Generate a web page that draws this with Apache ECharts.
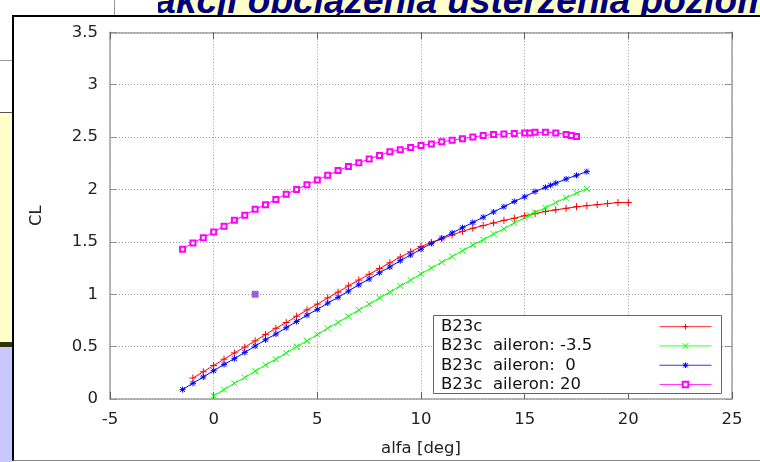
<!DOCTYPE html>
<html>
<head>
<meta charset="utf-8">
<script src="https://cdn.jsdelivr.net/npm/echarts@6/dist/echarts.min.js"></script>
<style>
  html, body { margin: 0; padding: 0; background: #fff; }
  #slide { position: relative; width: 760px; height: 462px; overflow: hidden; background: #fff; }
  .abs { position: absolute; }
  #band { left: 158px; top: 0; width: 602px; height: 16px; background: #ffffcc; overflow: hidden; }
  #title { position: absolute; left: -50px; top: -17px; white-space: nowrap;
           font: italic bold 37px/36px "Liberation Sans", Arial, sans-serif; color: #00007f; }
  #frame { left: 12px; top: 15px; width: 900px; height: 443px; background: #fff;
           border-left: 2px solid #000; border-top: 2px solid #000; border-bottom: 1px solid #888; }
  #chart { position: absolute; left: 0; top: 0; width: 760px; height: 462px; }
</style>
</head>
<body>
<div id="slide">
  <div class="abs" style="left:114px;top:0;width:1px;height:16px;background:#999"></div>
  <div class="abs" style="left:0;top:60px;width:12px;height:1px;background:#999"></div>
  <div class="abs" id="band"><div id="title">Reakcji obciążenia usterzenia poziomego</div></div>
  <div class="abs" style="left:0;top:112px;width:12px;height:1px;background:#555"></div>
  <div class="abs" style="left:0;top:113px;width:12px;height:229px;background:#ffffcc"></div>
  <div class="abs" style="left:0;top:342px;width:12px;height:5px;background:#333300"></div>
  <div class="abs" style="left:0;top:347px;width:12px;height:115px;background:#c8c8ff"></div>
  <div class="abs" id="frame"></div>
  <div id="chart"></div>
</div>
<script>
// Axis ranges (alfa in degrees, CL dimensionless)
const xMin = -5, xMax = 25, xStep = 5;
const yMin = 0, yMax = 3.5, yStep = 0.5;

// B23c (clean profile)
const alfaBase = [-1, -0.5, 0, 0.5, 1, 1.5, 2, 2.5, 3, 3.5, 4, 4.5, 5, 5.5, 6, 6.5, 7, 7.5, 8, 8.5,
  9, 9.5, 10, 10.5, 11, 11.5, 12, 12.5, 13, 13.5, 14, 14.5, 15, 15.5, 16, 16.5, 17, 17.5, 18, 18.5,
  19, 19.5, 20];
const clBase = [0.20, 0.26, 0.32, 0.38, 0.44, 0.495, 0.555, 0.615, 0.675, 0.73, 0.79, 0.85, 0.905, 0.965,
  1.02, 1.08, 1.135, 1.19, 1.245, 1.30, 1.355, 1.405, 1.455, 1.495, 1.53, 1.565, 1.60, 1.63, 1.655,
  1.68, 1.705, 1.725, 1.75, 1.77, 1.79, 1.805, 1.82, 1.835, 1.845, 1.855, 1.865, 1.875, 1.875];

// B23c aileron -3.5
const alfaAilM35 = [0, 0.5, 1, 1.5, 2, 2.5, 3, 3.5, 4, 4.5, 5, 5.5, 6, 6.5, 7, 7.5, 8, 8.5, 9, 9.5,
  10, 10.5, 11, 11.5, 12, 12.5, 13, 13.5, 14, 14.5, 15, 15.25, 15.5, 16, 16.5, 17, 17.5, 18];
const clAilM35 = [0.03, 0.09, 0.15, 0.205, 0.265, 0.325, 0.38, 0.44, 0.50, 0.555, 0.615, 0.675, 0.73,
  0.79, 0.85, 0.905, 0.965, 1.02, 1.08, 1.135, 1.195, 1.25, 1.305, 1.36, 1.415, 1.47, 1.52, 1.575,
  1.625, 1.68, 1.73, 1.755, 1.78, 1.825, 1.875, 1.92, 1.965, 2.005];

// B23c aileron 0
const alfaAil0 = [-1.5, -1, -0.5, 0, 0.5, 1, 1.5, 2, 2.5, 3, 3.5, 4, 4.5, 5, 5.5, 6, 6.5, 7, 7.5, 8,
  8.5, 9, 9.5, 10, 10.5, 11, 11.5, 12, 12.5, 13, 13.5, 14, 14.5, 15, 15.5, 16, 16.25, 16.5, 17, 17.5, 18];
const clAil0 = [0.09, 0.15, 0.21, 0.27, 0.33, 0.385, 0.445, 0.505, 0.565, 0.62, 0.68, 0.74, 0.80, 0.855,
  0.915, 0.97, 1.03, 1.09, 1.145, 1.205, 1.26, 1.32, 1.375, 1.43, 1.485, 1.535, 1.585, 1.635, 1.685,
  1.735, 1.785, 1.835, 1.885, 1.93, 1.98, 2.02, 2.04, 2.06, 2.10, 2.135, 2.17];

// B23c aileron 20
const alfaAil20 = [-1.5, -1, -0.5, 0, 0.5, 1, 1.5, 2, 2.5, 3, 3.5, 4, 4.5, 5, 5.5, 6, 6.5, 7, 7.5, 8,
  8.5, 9, 9.5, 10, 10.5, 11, 11.5, 12, 12.5, 13, 13.5, 14, 14.5, 15, 15.25, 15.5, 16, 16.5, 17, 17.25, 17.5];
const clAil20 = [1.43, 1.49, 1.54, 1.595, 1.65, 1.705, 1.755, 1.81, 1.855, 1.905, 1.955, 2.0, 2.045,
  2.09, 2.135, 2.18, 2.22, 2.255, 2.29, 2.325, 2.36, 2.38, 2.40, 2.42, 2.435, 2.455, 2.47, 2.485,
  2.50, 2.515, 2.525, 2.53, 2.535, 2.54, 2.54, 2.545, 2.545, 2.54, 2.525, 2.515, 2.505];

// Single isolated sample
const alfaExtra = [2];
const clExtra = [1.0];

const names = ['B23c', 'B23c  aileron: -3.5', 'B23c  aileron:  0', 'B23c  aileron: 20'];
const colors = ['#ff0000', '#00ff00', '#0000ff', '#ff00ff'];

const pairs = (xs, ys) => xs.map((x, i) => [x, ys[i]]);

// gnuplot-style point types
const plusSym = 'path://M0,5L10,5M5,0L5,10';
const crossSym = 'path://M0,0L10,10M10,0L0,10';
const starSym = 'path://M0,5L10,5M5,0L5,10M1,1L9,9M9,1L1,9';

function lineSeries(idx, data, symbol, size) {
  return {
    name: names[idx], type: 'line', data: data,
    symbol: symbol, symbolSize: size,
    lineStyle: { color: colors[idx], width: 1 },
    itemStyle: { color: colors[idx], borderColor: colors[idx], borderWidth: 1 },
    emphasis: { disabled: true },
    z: 2 + idx * 0.1
  };
}

const font = '"DejaVu Sans", Verdana, sans-serif';
const fs = 16.5;
const splitStyle = { show: true, lineStyle: { color: '#999', width: 1, type: [1, 2] } };
const borderLine = { show: true, onZero: false, lineStyle: { color: '#a0a0a0', width: 1.5 } };

// legend sample entries: line plus point in each series colour
const legendSamples = names.map((n, i) => ({
  name: n,
  lineStyle: { color: colors[i], width: 1, opacity: 0.8 },
  itemStyle: { color: colors[i], borderColor: colors[i], borderWidth: 1 }
}));

const chart = echarts.init(document.getElementById('chart'), null, { renderer: 'canvas' });
chart.setOption({
  backgroundColor: 'transparent',
  animation: false,
  textStyle: { fontFamily: font },
  grid: { left: 110, right: 28, top: 32.3, bottom: 61.4, containLabel: false },
  xAxis: [
    { type: 'value', min: xMin, max: xMax, interval: xStep, position: 'bottom',
      axisLine: borderLine, axisTick: { show: true, inside: true, length: 7, lineStyle: { color: '#606060' } },
      axisLabel: { margin: 12, fontSize: fs, color: '#222', fontFamily: font },
      splitLine: splitStyle,
      name: 'alfa [deg]', nameLocation: 'middle', nameGap: 41,
      nameTextStyle: { fontSize: fs, color: '#222', fontFamily: font } },
    { type: 'value', min: xMin, max: xMax, interval: xStep, position: 'top',
      axisLine: borderLine, axisTick: { show: true, inside: true, length: 7, lineStyle: { color: '#606060' } },
      axisLabel: { show: false }, splitLine: { show: false } }
  ],
  yAxis: [
    { type: 'value', min: yMin, max: yMax, interval: yStep, position: 'left',
      axisLine: borderLine, axisTick: { show: true, inside: true, length: 7, lineStyle: { color: '#909090' } },
      axisLabel: { margin: 12, fontSize: fs, color: '#222', fontFamily: font },
      splitLine: splitStyle,
      name: 'CL', nameLocation: 'middle', nameGap: 65,
      nameTextStyle: { fontSize: fs, color: '#222', fontFamily: font } },
    { type: 'value', min: yMin, max: yMax, interval: yStep, position: 'right',
      axisLine: borderLine, axisTick: { show: true, inside: true, length: 7, lineStyle: { color: '#909090' } },
      axisLabel: { show: false }, splitLine: { show: false } }
  ],
  legend: [
    { data: names, orient: 'vertical', left: 430, top: 312, itemGap: 0, padding: 5,
      itemWidth: 0, itemHeight: 0, selectedMode: false, z: 5,
      itemStyle: { opacity: 0 }, lineStyle: { opacity: 0 },
      textStyle: { fontSize: fs, lineHeight: 19.3, color: '#111', fontFamily: font } },
    { data: legendSamples, orient: 'vertical', left: 654, top: 312, itemGap: 0, padding: 5,
      itemWidth: 52, itemHeight: 7, selectedMode: false, z: 5,
      formatter: () => ' ',
      textStyle: { fontSize: fs, lineHeight: 19.3, color: '#111', fontFamily: font } }
  ],
  graphic: [
    { type: 'rect', z: 3, shape: { x: 433.5, y: 315.5, width: 288, height: 78 },
      style: { fill: '#fff', stroke: '#666', lineWidth: 1 } }
  ],
  series: [
    lineSeries(0, pairs(alfaBase, clBase), plusSym, 7),
    lineSeries(1, pairs(alfaAilM35, clAilM35), crossSym, 6),
    lineSeries(2, pairs(alfaAil0, clAil0), starSym, 6),
    lineSeries(3, pairs(alfaAil20, clAil20), 'emptyRect', 5),
    { type: 'scatter', data: pairs(alfaExtra, clExtra), symbol: 'rect', symbolSize: 6,
      itemStyle: { color: '#7040e0', borderColor: '#b040d0', borderWidth: 1 },
      emphasis: { disabled: true }, z: 2.5 }
  ]
});
</script>
</body>
</html>
